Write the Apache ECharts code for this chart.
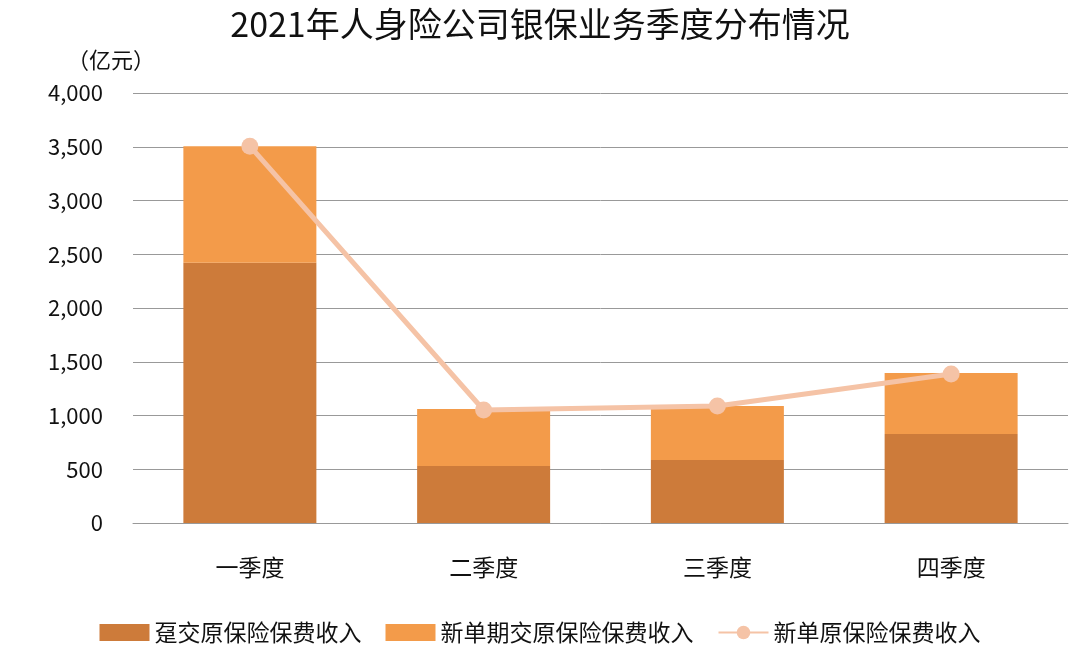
<!DOCTYPE html>
<html><head><meta charset="utf-8">
<script src="https://cdn.jsdelivr.net/npm/echarts@6/dist/echarts.min.js"></script>
<style>html,body{margin:0;padding:0;background:#fff}#c{width:1080px;height:657px}</style>
</head><body><div id="c"></div>
<script>
const categories = ['一季度','二季度','三季度','四季度'];
const renewal = [2420, 530, 586, 828];
const newPeriod = [1085, 530, 502, 567];
const newSingle = [3505, 1051, 1088, 1386];
const yTicks = [0, 500, 1000, 1500, 2000, 2500, 3000, 3500, 4000];
const font = '"Noto Sans CJK SC", "Noto Sans", sans-serif';
const chart = echarts.init(document.getElementById('c'));
chart.setOption({
  textStyle:{fontFamily:font},
  title:{text:'2021年人身险公司银保业务季度分布情况',left:'center',top:2,textStyle:{fontSize:34,fontWeight:'normal',color:'#111',fontFamily:font}},
  grid:{left:133,right:12,top:93,bottom:134},
  legend:{bottom:8,left:'center',itemGap:24,itemWidth:50,itemHeight:17,textStyle:{fontSize:23,color:'#111',fontFamily:font},
    data:[{name:'趸交原保险保费收入',icon:'rect'},{name:'新单期交原保险保费收入',icon:'rect'},{name:'新单原保险保费收入'}]},
  xAxis:{type:'category',data:categories,axisTick:{show:false},axisLine:{lineStyle:{color:'#999'}},
    axisLabel:{fontSize:23,color:'#111',margin:33}},
  yAxis:{type:'value',min:yTicks[0],max:yTicks[yTicks.length-1],interval:500,name:'（亿元）',
    nameGap:22,nameTextStyle:{fontSize:22,color:'#111',align:'right',padding:[0,-22,0,0]},
    axisLabel:{fontSize:22,color:'#111',margin:30,formatter:v=>v.toLocaleString('en-US')},
    splitLine:{lineStyle:{color:'#999'}},axisLine:{show:false}},
  series:[
    {name:'趸交原保险保费收入',type:'bar',stack:'a',data:renewal,barWidth:133,itemStyle:{color:'#CD7B3A'}},
    {name:'新单期交原保险保费收入',type:'bar',stack:'a',data:newPeriod,itemStyle:{color:'#F39B4A'}},
    {name:'新单原保险保费收入',type:'line',data:newSingle,symbol:'circle',symbolSize:17,
      lineStyle:{color:'#F5C3A6',width:5},itemStyle:{color:'#F5C3A6'}}
  ]
});
</script></body></html>
